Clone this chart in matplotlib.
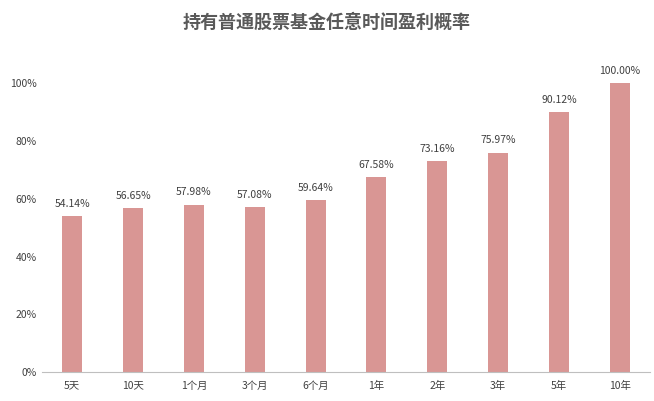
import matplotlib.pyplot as plt
from matplotlib.ticker import PercentFormatter

plt.rcParams['font.family'] = ['Noto Sans CJK SC', 'DejaVu Sans']

categories = ['5天', '10天', '1个月', '3个月', '6个月', '1年', '2年', '3年', '5年', '10年']
values = [54.14, 56.65, 57.98, 57.08, 59.64, 67.58, 73.16, 75.97, 90.12, 100.00]

fig = plt.figure(figsize=(6.54, 4.01), dpi=100)
ax = fig.add_axes([0.064, 0.072, 0.93, 0.778])

bars = ax.bar(range(len(values)), values, width=0.33, color='#d99694')
for i, v in enumerate(values):
    ax.text(i, v + 2.5, f'{v:.2f}%', ha='center', va='bottom', fontsize=7.5, color='#404040')

ax.set_xlim(-0.5, len(values) - 0.5)
ax.set_ylim(0, 108)
ax.set_yticks(range(0, 101, 20))
ax.yaxis.set_major_formatter(PercentFormatter(decimals=0))
ax.set_xticks(range(len(values)))
ax.set_xticklabels(categories)
ax.tick_params(axis='both', labelsize=7.5, colors='#404040', length=0)
ax.tick_params(axis='x', pad=6)
for s in ['top', 'right', 'left']:
    ax.spines[s].set_visible(False)
ax.spines['bottom'].set_color('#bfbfbf')

fig.text(0.5, 0.945, '持有普通股票基金任意时间盈利概率', ha='center', va='center',
         fontsize=13, fontweight='bold', color='#595959')

fig.savefig('out.png', dpi=100)
